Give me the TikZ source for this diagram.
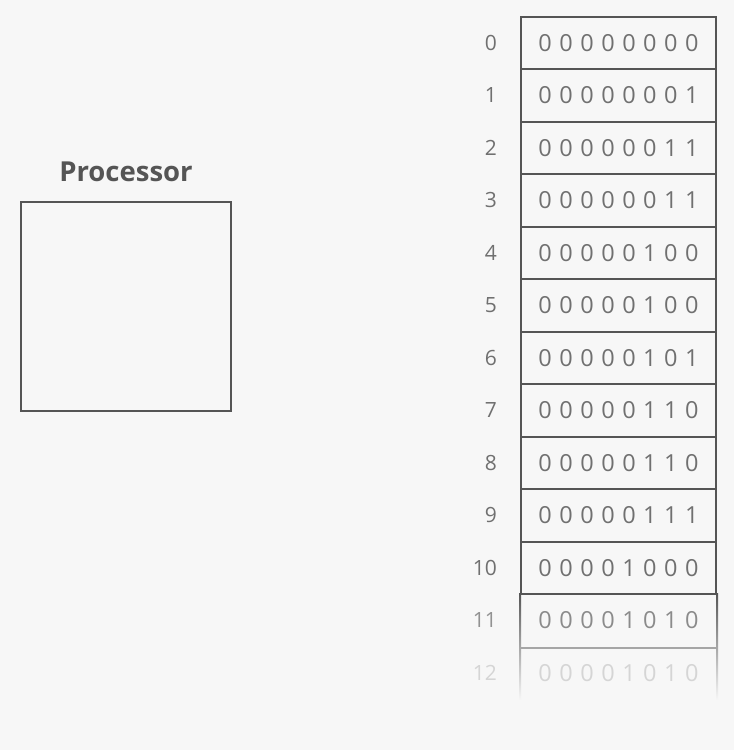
\documentclass[tikz,border=0pt]{standalone}
\usepackage{fontspec}
\setmainfont{Open Sans}
\newfontfamily\bitfont[LetterSpace=32]{Open Sans}
\usetikzlibrary{positioning}
\definecolor{bg}{HTML}{F7F7F7}
\definecolor{linegray}{HTML}{555555}
\definecolor{textgray}{HTML}{707070}

\begin{document}
\begin{tikzpicture}[x=1pt, y=-1pt]
	\tikzset{%
		cell/.style={rectangle, draw=linegray, line width=2pt, minimum width=195pt, minimum height=52.5pt, inner sep=0pt, text=textgray, font=\bitfont\fontsize{23.5}{23.5}\selectfont},
		addr/.style={text=textgray, font=\fontsize{21}{21}\selectfont, anchor=east, inner sep=0pt}
	}
	\fill[bg] (0,0) rectangle (734,750);
	\useasboundingbox (0,0) rectangle (734,750);
	% processor
	\node[rectangle, draw=linegray, line width=2pt, minimum width=210pt, minimum height=209pt] (proc) at (126,306.5) {};
	\node[text=linegray, font=\bfseries\fontsize{27.5}{27.5}\selectfont, above=16pt of proc] (proclabel) {Processor};
	% memory
	\foreach \i/\bits in {0/00000000, 1/00000001, 2/00000011, 3/00000011, 4/00000100, 5/00000100, 6/00000101, 7/00000110, 8/00000110, 9/00000111, 10/00001000}{
		\node[cell] (m\i) at (618.5, 42.75+52.5*\i) {\bits};
		\node[addr, left=23pt of m\i] (a\i) {\i};
	}
	% fading rows
	\node[cell, draw=none, text=textgray!80!bg] (m11) at (618.5, 620.25) {00001010};
	\node[addr, text=textgray!75!bg, left=23pt of m11] (a11) {11};
	\node[cell, draw=none, text=textgray!25!bg] (m12) at (618.5, 672.75) {00001010};
	\node[addr, text=textgray!25!bg, left=23pt of m12] (a12) {12};
	\shade[top color=linegray, middle color=linegray!55!bg, bottom color=bg] ([xshift=-1pt]m11.north west) rectangle ([xshift=1pt]m12.south west);
	\shade[top color=linegray, middle color=linegray!55!bg, bottom color=bg] ([xshift=-1pt]m11.north east) rectangle ([xshift=1pt]m12.south east);
	\draw[line width=2pt, linegray!50!bg] (m11.south west) -- (m11.south east);
\end{tikzpicture}
\end{document}
